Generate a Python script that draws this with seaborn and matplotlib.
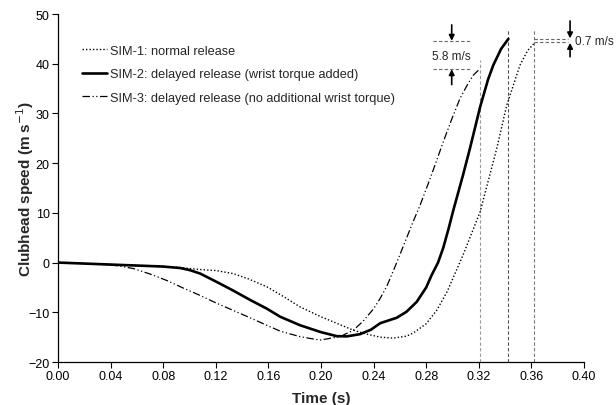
import matplotlib
matplotlib.use("Agg")
import matplotlib.pyplot as plt
import seaborn as sns
import pandas as pd

# ---- data ----
sim1_t = [0.00, 0.02, 0.04, 0.06, 0.08, 0.093, 0.10, 0.108, 0.12, 0.133, 0.145, 0.159, 0.17, 0.184,
          0.20, 0.2145, 0.2246, 0.235, 0.245, 0.255, 0.265, 0.27, 0.28, 0.288, 0.296, 0.308, 0.321,
          0.3336, 0.3412, 0.3513, 0.357, 0.3627]
sim1_v = [0.0, -0.2, -0.4, -0.6, -0.8, -1.0, -1.2, -1.4, -1.6, -2.2, -3.3, -4.9, -6.6, -8.9,
          -10.9, -12.5, -13.6, -14.4, -15.0, -15.2, -14.8, -14.2, -12.3, -9.6, -5.8, 1.5, 10.2,
          22.9, 31.6, 39.7, 42.6, 44.3]

sim2_t = [0.00, 0.02, 0.04, 0.06, 0.08, 0.093, 0.10, 0.108, 0.12, 0.133, 0.146, 0.159, 0.169, 0.184,
          0.20, 0.212, 0.2195, 0.2297, 0.238, 0.245, 0.2576, 0.265, 0.2728, 0.28, 0.284, 0.289,
          0.293, 0.297, 0.3006, 0.308, 0.3133, 0.321, 0.327, 0.331, 0.337, 0.3425]
sim2_v = [0.0, -0.2, -0.4, -0.6, -0.8, -1.1, -1.5, -2.2, -3.8, -5.6, -7.5, -9.3, -10.9, -12.6,
          -14.0, -14.8, -14.85, -14.4, -13.5, -12.2, -11.1, -9.9, -7.9, -5.0, -2.6, 0.0,
          3.0, 6.8, 10.5, 17.6, 23.0, 31.3, 36.8, 39.7, 43.0, 45.0]

sim3_t = [0.00, 0.02, 0.04, 0.047, 0.0573, 0.07, 0.0827, 0.095, 0.108, 0.12, 0.133, 0.146, 0.1587,
          0.169, 0.184, 0.199, 0.2145, 0.2246, 0.232, 0.24, 0.245, 0.25, 0.2576, 0.2626, 0.27,
          0.2753, 0.283, 0.293, 0.2995, 0.3057, 0.311, 0.3158, 0.321]
sim3_v = [0.0, -0.2, -0.5, -0.7, -1.2, -2.3, -3.6, -5.1, -6.6, -8.1, -9.6, -11.1, -12.6,
          -13.8, -14.9, -15.6, -14.9, -13.6, -11.8, -9.3, -7.2, -4.8, 0.0, 3.3, 8.2,
          11.5, 16.9, 24.3, 28.9, 33.0, 35.6, 37.7, 39.0]

labels = ["SIM-1: normal release",
          "SIM-2: delayed release (wrist torque added)",
          "SIM-3: delayed release (no additional wrist torque)"]

release_t = [0.321, 0.342, 0.362]
diff_labels = ["5.8 m/s", "0.7 m/s"]

x_ticks = [0.00, 0.04, 0.08, 0.12, 0.16, 0.20, 0.24, 0.28, 0.32, 0.36, 0.40]
y_ticks = [-20, -10, 0, 10, 20, 30, 40, 50]

# ---- plot ----
sns.set_theme(style="ticks")
plt.rcParams["font.family"] = ["Liberation Sans", "DejaVu Sans"]
plt.rcParams["axes.unicode_minus"] = True

fig = plt.figure(figsize=(6.16, 4.06), dpi=100)
ax = fig.add_axes([58 / 616, 43 / 406, 526 / 616, 348 / 406])

df1 = pd.DataFrame({"t": sim1_t, "v": sim1_v})
df2 = pd.DataFrame({"t": sim2_t, "v": sim2_v})
df3 = pd.DataFrame({"t": sim3_t, "v": sim3_v})

sns.lineplot(data=df1, x="t", y="v", ax=ax, color="black", lw=1.0,
             linestyle=(0, (1, 1.5)), label=labels[0], sort=False)
sns.lineplot(data=df2, x="t", y="v", ax=ax, color="black", lw=1.9,
             linestyle="-", label=labels[1], sort=False)
sns.lineplot(data=df3, x="t", y="v", ax=ax, color="black", lw=0.9,
             linestyle=(0, (6, 2, 1, 2, 1, 2)), label=labels[2], sort=False)

# release vertical lines
ax.plot([release_t[0]] * 2, [-20, 40.7], color="#999999", lw=0.8, ls=(0, (3, 2)), zorder=1)
ax.plot([release_t[1]] * 2, [-20, 46.7], color="#555555", lw=0.8, ls=(0, (3, 2)), zorder=1)
ax.plot([release_t[2]] * 2, [-20, 46.7], color="#777777", lw=0.8, ls=(0, (3, 2)), zorder=1)

# difference annotations
hc = "#666666"
ax.plot([0.285, 0.313], [44.5, 44.5], color=hc, lw=0.8, ls=(0, (3, 2)))
ax.plot([0.285, 0.313], [39.0, 39.0], color=hc, lw=0.8, ls=(0, (3, 2)))
ax.plot([0.362, 0.388], [45.0, 45.0], color=hc, lw=0.8, ls=(0, (3, 2)))
ax.plot([0.362, 0.388], [44.3, 44.3], color=hc, lw=0.8, ls=(0, (3, 2)))

ap = dict(arrowstyle="-|>", color="black", lw=1.2, mutation_scale=8, shrinkA=0, shrinkB=0)
ax.annotate("", xy=(0.2994, 44.6), xytext=(0.2994, 47.8), arrowprops=ap, annotation_clip=False)
ax.annotate("", xy=(0.2994, 38.9), xytext=(0.2994, 35.8), arrowprops=ap, annotation_clip=False)
ax.annotate("", xy=(0.3894, 45.1), xytext=(0.3894, 48.6), arrowprops=ap, annotation_clip=False)
ax.annotate("", xy=(0.3894, 44.2), xytext=(0.3894, 41.4), arrowprops=ap, annotation_clip=False)
ax.text(0.2994, 41.5, diff_labels[0], ha="center", va="center", fontsize=8.5)
ax.text(0.3935, 44.6, diff_labels[1], ha="left", va="center", fontsize=8.5, clip_on=False)

ax.set_xlim(0, 0.40)
ax.set_ylim(-20, 50)
ax.set_xticks(x_ticks)
ax.set_xticklabels([f"{v:.2f}" for v in x_ticks])
ax.set_yticks(y_ticks)
ax.set_yticklabels([str(v).replace("-", "\u2212") for v in y_ticks])
ax.tick_params(labelsize=9, length=4, width=0.8, colors="black", pad=2)
for s in ["top", "right"]:
    ax.spines[s].set_visible(False)
for s in ["left", "bottom"]:
    ax.spines[s].set_linewidth(0.9)
    ax.spines[s].set_color("black")

ax.set_xlabel("Time (s)", fontsize=11, fontweight="bold", labelpad=6)
ax.set_ylabel("Clubhead speed (m s$^{-1}$)", fontsize=11, fontweight="bold")
ax.yaxis.set_label_coords(-0.042, 0.5)

leg = ax.legend(loc="upper left", bbox_to_anchor=(0.036, 0.927), frameon=False, fontsize=9.2,
                handlelength=1.95, handletextpad=0.2, labelspacing=0.9, borderaxespad=0)

fig.savefig("out.png", dpi=100)
